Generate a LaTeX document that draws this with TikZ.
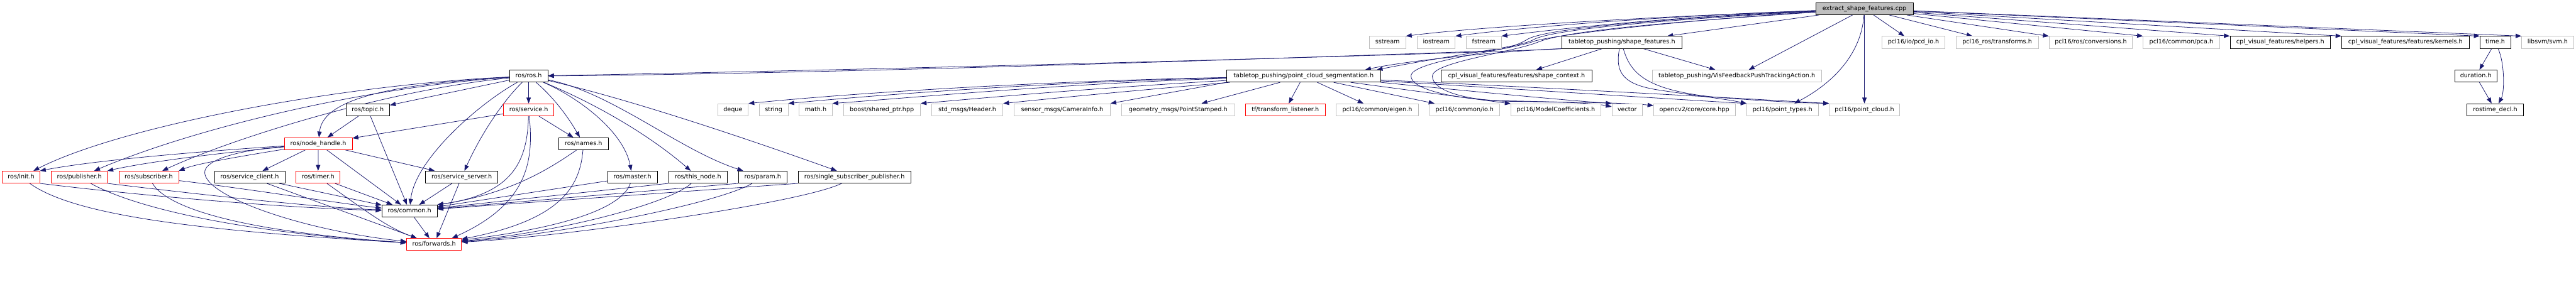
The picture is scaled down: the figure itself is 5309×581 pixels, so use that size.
\documentclass[tikz,border=0pt]{standalone}
\usepackage{fontspec}
\setmainfont{DejaVu Sans}
\usetikzlibrary{arrows.meta,calc,backgrounds}
\definecolor{edgeblue}{HTML}{191970}
\definecolor{extgray}{HTML}{BFBFBF}
\tikzset{
  nbox/.style={draw=black,fill=white,line width=1pt,minimum height=25pt,minimum width=#1,inner sep=0pt,
    font=\fontsize{12.5pt}{15pt}\selectfont,text height=9.2pt,text depth=2.8pt},
  redbox/.style={nbox=#1,draw=red},
  extbox/.style={nbox=#1,draw=extgray},
  rootbox/.style={nbox=#1,fill=extgray},
  dep/.style={draw=edgeblue,line width=1pt,-{Triangle[length=12pt,width=9pt]}},
}
\begin{document}
\begin{tikzpicture}[x=1pt,y=-1pt]
\useasboundingbox (0,0) rectangle (5309,581);
% row 0
\node[rootbox=201] (E) at (3842.5,18) {extract\_shape\_features.cpp};
% row 1
\node[extbox=75] (sstream) at (2859.5,87.5) {sstream};
\node[extbox=78] (iostream) at (2960,87.5) {iostream};
\node[extbox=72] (fstream) at (3058,87.5) {fstream};
\node[nbox=247] (SF) at (3342.5,87.5) {tabletop\_pushing/shape\_features.h};
\node[extbox=129] (pcdio) at (3943.5,87.5) {pcl16/io/pcd\_io.h};
\node[extbox=170] (transforms) at (4116,87.5) {pcl16\_ros/transforms.h};
\node[extbox=172] (conversions) at (4309,87.5) {pcl16/ros/conversions.h};
\node[extbox=157] (pca) at (4495.5,87.5) {pcl16/common/pca.h};
\node[nbox=207] (helpers) at (4699.5,87.5) {cpl\_visual\_features/helpers.h};
\node[nbox=263] (kernels) at (4957.5,87.5) {cpl\_visual\_features/features/kernels.h};
\node[nbox=63] (timeh) at (5142.5,87.5) {time.h};
\node[extbox=107] (svm) at (5250.5,87.5) {libsvm/svm.h};
% row 2
\node[nbox=79] (ROS) at (1089.5,157) {ros/ros.h};
\node[nbox=317] (PCS) at (2686.5,157) {tabletop\_pushing/point\_cloud\_segmentation.h};
\node[nbox=311] (SC) at (3125.5,157) {cpl\_visual\_features/features/shape\_context.h};
\node[extbox=349] (VIS) at (3579.5,157) {tabletop\_pushing/VisFeedbackPushTrackingAction.h};
\node[nbox=87] (duration) at (5102.5,157) {duration.h};
% row 3
\node[nbox=90] (topic) at (758,226.5) {ros/topic.h};
\node[redbox=103] (service) at (1089.5,226.5) {ros/service.h};
\node[extbox=63] (deque) at (1510.5,226.5) {deque};
\node[extbox=59] (string) at (1594.5,226.5) {string};
\node[extbox=68] (mathh) at (1681,226.5) {math.h};
\node[extbox=159] (boost) at (1817.5,226.5) {boost/shared\_ptr.hpp};
\node[extbox=147] (header) at (1993.5,226.5) {std\_msgs/Header.h};
\node[extbox=198] (camera) at (2189,226.5) {sensor\_msgs/CameraInfo.h};
\node[extbox=234] (pointst) at (2428,226.5) {geometry\_msgs/PointStamped.h};
\node[redbox=164] (tfl) at (2649,226.5) {tf/transform\_listener.h};
\node[extbox=169] (eigen) at (2838.5,226.5) {pcl16/common/eigen.h};
\node[extbox=145] (ioh) at (3018.5,226.5) {pcl16/common/io.h};
\node[extbox=185] (modelc) at (3206.5,226.5) {pcl16/ModelCoefficients.h};
\node[extbox=63] (vector) at (3353.5,226.5) {vector};
\node[extbox=168] (opencv) at (3492,226.5) {opencv2/core/core.hpp};
\node[extbox=147] (ptypes) at (3673.5,226.5) {pcl16/point\_types.h};
\node[extbox=145] (pcloud) at (3842.5,226.5) {pcl16/point\_cloud.h};
\node[nbox=117] (rostime) at (5142.5,226.5) {rostime\_decl.h};
% row 4
\node[redbox=140] (NH) at (656,296.5) {ros/node\_handle.h};
\node[nbox=103] (names) at (1202.5,296.5) {ros/names.h};
% row 5
\node[redbox=77] (init) at (43.5,365.5) {ros/init.h};
\node[redbox=115] (pub) at (163.5,365.5) {ros/publisher.h};
\node[redbox=123] (sub) at (306.5,365.5) {ros/subscriber.h};
\node[nbox=145] (sclient) at (514.5,365.5) {ros/service\_client.h};
\node[redbox=91] (timer) at (655.5,365.5) {ros/timer.h};
\node[nbox=149] (sserver) at (951.5,365.5) {ros/service\_server.h};
\node[nbox=103] (master) at (1303.5,365.5) {ros/master.h};
\node[nbox=121] (thisnode) at (1438.5,365.5) {ros/this\_node.h};
\node[nbox=100] (param) at (1572,365.5) {ros/param.h};
\node[nbox=232] (ssp) at (1761,365.5) {ros/single\_subscriber\_publisher.h};
% row 6, 7
\node[nbox=114] (common) at (844,435.5) {ros/common.h};
\node[redbox=113] (forwards) at (894.5,504.5) {ros/forwards.h};

\begin{pgfonlayer}{background}
\fill[white] (0,0) rectangle (5309,581);
% ---- root edges
\draw[dep] (E) .. controls (3400,35) and (3050,55) .. (sstream.north east);
\draw[dep] (E) .. controls (3400,35) and (3150,55) .. (iostream.north east);
\draw[dep] (E) .. controls (3450,35) and (3250,55) .. (fstream.north east);
\draw[dep] (E) -- (SF);
\draw[dep] (E) -- (VIS);
\draw[dep] (E) .. controls (3836,110) and (3780,170) .. (ptypes);
\draw[dep] (E) -- (pcloud);
\draw[dep] (E) -- (pcdio);
\draw[dep] (E) -- (transforms);
\draw[dep] (E) -- (conversions);
\draw[dep] (E) -- (pca.north west);
\draw[dep] (E) -- (helpers.north west);
\draw[dep] (E) -- (kernels.north west);
\draw[dep] (E) -- (timeh.north west);
\draw[dep] (E) -- (svm.north west);
\draw[dep] (E) .. controls (3500,35) and (3200,55) .. (3150,80) .. controls (3125,95) and (3100,103) .. (3050,106) .. controls (2500,125) and (1700,152) .. (ROS);
\draw[dep] (E) .. controls (3500,37) and (3205,57) .. (3160,82) .. controls (3135,97) and (3000,112) .. ([xshift=-8]PCS.north east);
\draw[dep] (E) .. controls (3500,40) and (3240,66) .. (3165,84) .. controls (3110,105) and (2908,125) .. (2908,157) .. controls (2908,185) and (3000,205) .. (3100,208) .. controls (3200,210) and (3280,212) .. (vector);
\draw[dep] (E) .. controls (3500,42) and (3240,60) .. (3172,86) .. controls (3120,108) and (2952,128) .. (2952,157) .. controls (2952,185) and (3010,205) .. (3100,209) .. controls (3250,211) and (3350,212) .. (opencv);
% ---- shape_features edges
\draw[dep] (SF) -- (SC);
\draw[dep] (SF) -- (VIS);
\draw[dep] (SF.south west) .. controls (3100,108) and (2000,140) .. (ROS);
\draw[dep] (SF.south west) .. controls (3100,105) and (2900,125) .. ([xshift=-32]PCS.north east);
\draw[dep] ([xshift=-5]SF.south) .. controls (3328,150) and (3345,175) .. (3420,186) .. controls (3500,198) and (3560,205) .. (ptypes.north west);
\draw[dep] ([xshift=3]SF.south) .. controls (3360,150) and (3390,185) .. (3530,200) .. controls (3650,210) and (3720,212) .. (pcloud.north west);
% ---- point_cloud_segmentation edges
\draw[dep] (PCS) .. controls (2200,166) and (1800,188) .. (deque.north east);
\draw[dep] (PCS) .. controls (2200,168) and (1850,192) .. (string.north east);
\draw[dep] (PCS) .. controls (2200,172) and (1900,200) .. (mathh.north east);
\draw[dep] (PCS) .. controls (2250,182) and (2050,200) .. (boost.north east);
\draw[dep] (PCS) .. controls (2300,190) and (2150,205) .. (header.north east);
\draw[dep] (PCS.south west) -- (camera.north east);
\draw[dep] (PCS) -- (pointst);
\draw[dep] (PCS) -- (tfl);
\draw[dep] (PCS) -- (eigen);
\draw[dep] (PCS) -- (ioh);
\draw[dep] (PCS) -- (modelc);
\draw[dep] (PCS.south east) .. controls (3000,185) and (3200,205) .. (vector.north west);
\draw[dep] ([yshift=-10]PCS.east) .. controls (3100,182) and (3450,205) .. (ptypes.north west);
\draw[dep] ([yshift=-8]PCS.east) .. controls (3100,177) and (3500,198) .. (pcloud.north west);
% ---- ros/ros.h edges
\draw[dep] (ROS) .. controls (700,175) and (250,260) .. (init);
\draw[dep] (ROS) .. controls (750,180) and (400,265) .. (pub);
\draw[dep] (ROS) .. controls (800,185) and (480,285) .. (sub);
\draw[dep] (ROS) .. controls (780,175) and (665,210) .. (NH);
\draw[dep] (ROS) -- (topic);
\draw[dep] (ROS) -- (service);
\draw[dep] (ROS) .. controls (1030,215) and (985,290) .. (sserver);
\draw[dep] (ROS) .. controls (985,215) and (855,330) .. (common);
\draw[dep] (ROS) .. controls (1140,200) and (1170,240) .. (names);
\draw[dep] (ROS) .. controls (1190,200) and (1285,270) .. (master);
\draw[dep] (ROS) .. controls (1230,215) and (1340,280) .. (thisnode);
\draw[dep] (ROS) .. controls (1260,190) and (1400,310) .. (param);
\draw[dep] (ROS) .. controls (1300,205) and (1550,290) .. (ssp);
% ---- node_handle edges
\draw[dep] (NH) .. controls (420,312) and (200,330) .. (init.north east);
\draw[dep] (NH) .. controls (430,318) and (300,335) .. (pub.north east);
\draw[dep] (NH) .. controls (450,330) and (400,340) .. (sub.north east);
\draw[dep] (NH) .. controls (470,312) and (420,335) .. (422,357) .. controls (425,405) and (620,475) .. (forwards);
\draw[dep] (NH) -- (sclient);
\draw[dep] (NH) -- (timer);
\draw[dep] (NH) -- (common);
\draw[dep] (NH) -- (sserver);
% ---- topic, service, names
\draw[dep] (topic) -- (NH);
\draw[dep] (topic) -- (common);
\draw[dep] (service) -- (NH);
\draw[dep] (service) -- (names);
\draw[dep] (service) .. controls (1087,330) and (1060,400) .. (common.north east);
\draw[dep] (service) .. controls (1100,330) and (1090,420) .. ([xshift=-20]forwards.north east);
\draw[dep] ([xshift=-14]names.south) .. controls (1130,350) and (1050,400) .. (common.north east);
\draw[dep] (names) .. controls (1195,390) and (1150,455) .. ([yshift=-2]forwards.north east);
% ---- row 5 right part
\draw[dep] (sserver) -- (common);
\draw[dep] (sserver) -- (forwards);
\draw[dep] (master) -- (common);
\draw[dep] (master) .. controls (1285,420) and (1200,465) .. ([yshift=-4]forwards.north east);
\draw[dep] (thisnode.south west) -- (common);
\draw[dep] (thisnode) .. controls (1380,420) and (1150,480) .. ([yshift=-6]forwards.north east);
\draw[dep] (param.south west) -- (common);
\draw[dep] (param) .. controls (1480,420) and (1150,485) .. ([yshift=-7]forwards.north east);
\draw[dep] (ssp.south west) -- (common);
\draw[dep] (ssp) .. controls (1650,420) and (1150,490) .. ([yshift=-8]forwards.north east);
% ---- row 5 left part
\draw[dep] (init.south east) .. controls (300,405) and (600,430) .. (common);
\draw[dep] (init) .. controls (160,450) and (450,478) .. (forwards);
\draw[dep] (pub.south east) .. controls (400,400) and (650,428) .. (common);
\draw[dep] (pub) .. controls (280,430) and (500,480) .. (forwards);
\draw[dep] (sub) .. controls (500,388) and (700,420) .. (common);
\draw[dep] (sub) .. controls (345,430) and (500,478) .. (forwards);
\draw[dep] (sclient) -- (common);
\draw[dep] (sclient) -- (forwards);
\draw[dep] (timer) -- (common);
\draw[dep] (timer) .. controls (760,440) and (800,470) .. (forwards);
\draw[dep] (common) -- (forwards);
% ---- time
\draw[dep] (timeh) -- (duration);
\draw[dep] (timeh) .. controls (5162,130) and (5162,190) .. (rostime);
\draw[dep] (duration) -- (rostime);
\end{pgfonlayer}
\end{tikzpicture}
\end{document}
